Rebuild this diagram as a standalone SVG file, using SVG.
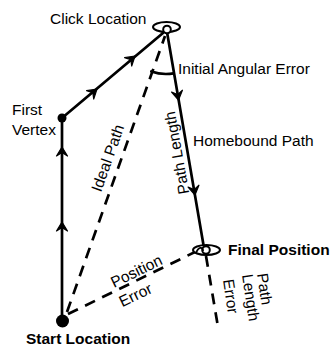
<svg xmlns="http://www.w3.org/2000/svg" width="331" height="349" viewBox="0 0 331 349">
  <style>
    .lbl { font-family: "Liberation Sans", Arial, sans-serif; font-size: 15.5px; fill: #000; }
    .bold { font-weight: bold; }
    .solid { stroke: #000; stroke-width: 2.7; fill: none; stroke-linecap: round; }
    .dash { stroke: #000; stroke-width: 2.7; fill: none; stroke-dasharray: 11 8; }
    .ring { stroke: #000; stroke-width: 2; fill: #fff; }
  </style>
  <defs>
    <!-- barbed arrowhead pointing along +x, tip at origin -->
    <path id="barb" d="M0,0 L-9,-5.5 L-5.5,0 L-9,5.5 Z" fill="#000" stroke="#000" stroke-width="1.2" stroke-linejoin="round"/>
  </defs>
  <rect width="331" height="349" fill="#fff"/>

  <g id="connectors">
    <!-- outbound path: start -> first vertex -> click -->
    <line class="solid" x1="62" y1="320" x2="62" y2="118"/>
    <line class="solid" x1="62" y1="118" x2="163" y2="33"/>
    <!-- homebound path -->
    <line class="solid" x1="167" y1="32" x2="204" y2="248"/>
    <!-- dashed reference lines -->
    <line class="dash" x1="67" y1="312" x2="165" y2="36"/>
    <line class="dash" x1="68" y1="314" x2="195" y2="252"/>
    <line class="dash" x1="206" y1="256" x2="218" y2="327"/>
    <!-- initial angular error arc -->
    <path class="solid" stroke-width="2" d="M151.3,71.5 A44,44 0 0 0 173.7,73.3"/>
    <!-- arrowheads -->
    <use href="#barb" transform="translate(62,147) rotate(-90)"/>
    <use href="#barb" transform="translate(62,222) rotate(-90)"/>
    <use href="#barb" transform="translate(97,89) rotate(-40.4)"/>
    <use href="#barb" transform="translate(135,56) rotate(-40.4)"/>
    <use href="#barb" transform="translate(178.5,100) rotate(80.4)"/>
    <use href="#barb" transform="translate(195,195) rotate(80.4)"/>
  </g>

  <g id="start-location">
    <circle cx="62.5" cy="321" r="6.5" fill="#000"/>
    <text class="lbl bold" x="26" y="344">Start Location</text>
  </g>

  <g id="first-vertex">
    <circle cx="62" cy="118" r="4.5" fill="#000"/>
    <text class="lbl" x="12" y="115">First</text>
    <text class="lbl" x="12" y="135">Vertex</text>
  </g>

  <g id="click-location">
    <ellipse class="ring" cx="166.5" cy="27" rx="13.5" ry="5"/>
    <circle class="ring" cx="167" cy="29.5" r="3.8"/>
    <text class="lbl" x="50" y="24">Click Location</text>
  </g>

  <g id="final-position">
    <ellipse class="ring" cx="206.5" cy="250" rx="13.5" ry="5"/>
    <circle class="ring" cx="206" cy="250" r="3.8"/>
    <path d="M196,253.5 C198,247 203,246 203,251" fill="none" stroke="#000" stroke-width="1.8"/>
    <text class="lbl bold" x="228" y="255">Final Position</text>
  </g>

  <g id="labels">
    <text class="lbl" x="178" y="74">Initial Angular Error</text>
    <text class="lbl" x="193" y="146">Homebound Path</text>
    <text class="lbl" text-anchor="middle" transform="translate(112.7,159.8) rotate(-70.5)">Ideal Path</text>
    <text class="lbl" text-anchor="middle" transform="translate(182,152) rotate(-99.9)">Path Length</text>
    <g transform="translate(114,288) rotate(-26)">
      <text class="lbl" x="0" y="0">Position</text>
      <text class="lbl" x="-1" y="21">Error</text>
    </g>
    <text class="lbl" transform="translate(257,274) rotate(81.5)">Path</text>
    <text class="lbl" transform="translate(242,275) rotate(81.5)">Length</text>
    <text class="lbl" transform="translate(223,280) rotate(81.5)">Error</text>
  </g>
</svg>
